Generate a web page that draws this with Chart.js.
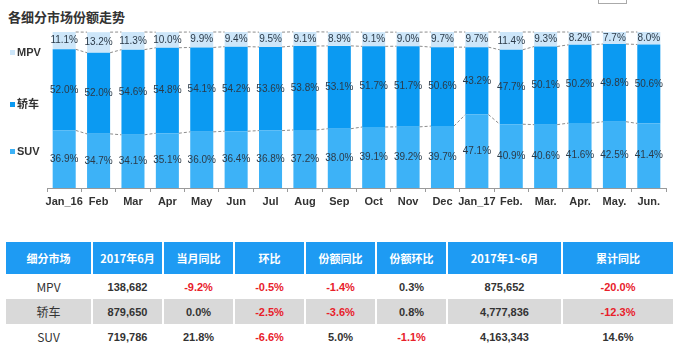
<!DOCTYPE html>
<html>
<head>
<meta charset="utf-8">
<script src="https://cdn.jsdelivr.net/npm/chart.js@4.4.1/dist/chart.umd.min.js"></script>
<style>
  body { margin: 0; background: #fff; font-family: "Liberation Sans", "Noto Sans CJK SC", sans-serif; }
  #wrap { position: relative; width: 677px; height: 362px; overflow: hidden; }
  #title { position: absolute; left: 8px; top: 7px; font-size: 13px; font-weight: bold; color: #333; font-family: "Noto Sans CJK SC", sans-serif; }
  #box { position: absolute; left: 598px; top: -1px; width: 27px; height: 4px; border: 1px solid #aaa; border-top: none; }
  .lg { position: absolute; left: 10px; font-size: 11px; font-weight: bold; color: #333; font-family: "Liberation Sans", "Noto Sans CJK SC", sans-serif; }
  .lg i { display: inline-block; width: 5px; height: 5px; margin-right: 2px; vertical-align: 1px; }
  canvas { position: absolute; left: 0; top: 0; }
  table { position: absolute; left: 6px; top: 242px; border-collapse: collapse; table-layout: fixed; }
  th { background: #1e9bf3; color: #fff; font-size: 11px; font-weight: bold; height: 32px; padding: 0; border-left: 2px solid #fff; font-family: "Noto Sans CJK SC", "Liberation Sans", sans-serif; }
  th:first-child, td:first-child { border-left: none; }
  td { height: 25px; padding: 0; text-align: center; font-size: 11px; color: #333; font-weight: bold; border-left: 2px solid #fff; }
  td:first-child { font-weight: normal; font-size: 12px; font-family: "Noto Sans CJK SC", "Liberation Sans", sans-serif; }
  tr.g td { background: #d9d9d9; }
  .r { color: #e8202a; }
</style>
</head>
<body>
<div id="wrap">
  <div id="title">各细分市场份额走势</div>
  <div id="box"></div>
  <canvas id="myChart" width="677" height="225"></canvas>
  <div class="lg" style="top:46px"><i style="background:#cde6f9"></i>MPV</div>
  <div class="lg" style="top:95px; font-family:'Noto Sans CJK SC',sans-serif"><i style="background:#0b9af2"></i>轿车</div>
  <div class="lg" style="top:145px"><i style="background:#3db2f7"></i>SUV</div>
  <table id="tbl"></table>
</div>
<script>
// months
var labels = ["Jan_16", "Feb", "Mar", "Apr", "May", "Jun", "Jul", "Aug", "Sep", "Oct", "Nov", "Dec", "Jan_17", "Feb.", "Mar.", "Apr.", "May.", "Jun."];

// share values, %
var suv = [36.9, 34.7, 34.1, 35.1, 36.0, 36.4, 36.8, 37.2, 38.0, 39.1, 39.2, 39.7, 47.1, 40.9, 40.6, 41.6, 42.5, 41.4];
var sedan = [52.0, 52.0, 54.6, 54.8, 54.1, 54.2, 53.6, 53.8, 53.1, 51.7, 51.7, 50.6, 43.2, 47.7, 50.1, 50.2, 49.8, 50.6];
var mpv = [11.1, 13.2, 11.3, 10.0, 9.9, 9.4, 9.5, 9.1, 8.9, 9.1, 9.0, 9.7, 9.7, 11.4, 9.3, 8.2, 7.7, 8.0];

// table
var tableHead = ["细分市场", "2017年6月", "当月同比", "环比", "份额同比", "份额环比", "2017年1~6月", "累计同比"];
var tableRows = [
  ["MPV", "138,682", "-9.2%", "-0.5%", "-1.4%", "0.3%", "875,652", "-20.0%"],
  ["轿车", "879,650", "0.0%", "-2.5%", "-3.6%", "0.8%", "4,777,836", "-12.3%"],
  ["SUV", "719,786", "21.8%", "-6.6%", "5.0%", "-1.1%", "4,163,343", "14.6%"]
];
var colWidths = [86, 71, 71, 71, 71, 71, 115, 111];

var tbl = document.getElementById("tbl");
var html = "<colgroup>";
colWidths.forEach(function (w) { html += '<col style="width:' + w + 'px">'; });
html += "</colgroup><tr>";
tableHead.forEach(function (h) { html += "<th>" + h + "</th>"; });
html += "</tr>";
tableRows.forEach(function (row, i) {
  html += '<tr' + (i == 1 ? ' class="g"' : '') + '>';
  row.forEach(function (c, j) {
    var red = j > 0 && c.charAt(0) == "-";
    html += '<td' + (red ? ' class="r"' : '') + '>' + c + '</td>';
  });
  html += "</tr>";
});
tbl.innerHTML = html;

// series lines + value labels
var barExtras = {
  id: "barExtras",
  afterDatasetsDraw: function (chart) {
    var ctx = chart.ctx;
    ctx.save();
    ctx.strokeStyle = "#8c8c8c";
    ctx.lineWidth = 1;
    ctx.setLineDash([3, 2]);
    chart.data.datasets.forEach(function (ds, di) {
      var bars = chart.getDatasetMeta(di).data;
      for (var i = 0; i < bars.length - 1; i++) {
        var a = bars[i], b = bars[i + 1];
        ctx.beginPath();
        ctx.moveTo(a.x + a.width / 2, a.y);
        ctx.lineTo(b.x - b.width / 2, b.y);
        ctx.stroke();
      }
    });
    ctx.setLineDash([]);
    ctx.fillStyle = "#2b3a48";
    ctx.font = "10px 'Liberation Sans'";
    ctx.textAlign = "center";
    ctx.textBaseline = "middle";
    chart.data.datasets.forEach(function (ds, di) {
      chart.getDatasetMeta(di).data.forEach(function (bar, i) {
        ctx.fillText(ds.data[i].toFixed(1) + "%", bar.x, (bar.y + bar.base) / 2);
      });
    });
    ctx.restore();
  }
};

var myChart = new Chart(document.getElementById("myChart"), {
  type: "bar",
  data: {
    labels: labels,
    datasets: [
      { label: "SUV", data: suv, backgroundColor: "#3db2f7" },
      { label: "轿车", data: sedan, backgroundColor: "#0b9af2" },
      { label: "MPV", data: mpv, backgroundColor: "#cde6f9" }
    ]
  },
  options: {
    responsive: false,
    animation: false,
    devicePixelRatio: 1,
    layout: { padding: { left: 47, right: 11, top: 32, bottom: 7 } },
    datasets: { bar: { categoryPercentage: 1, barPercentage: 0.67 } },
    plugins: { legend: { display: false }, tooltip: { enabled: false } },
    scales: {
      x: {
        stacked: true,
        afterFit: function (s) { s.height = 30; },
        grid: { display: true, drawOnChartArea: false, offset: true, tickLength: 4, color: "#9a9a9a" },
        border: { display: true, color: "#9a9a9a" },
        ticks: { padding: 3, color: "#333", font: { size: 11, weight: "bold", family: "'Liberation Sans'" }, maxRotation: 0, autoSkip: false }
      },
      y: { stacked: true, display: false, min: 0, max: 100 }
    }
  },
  plugins: [barExtras]
});
</script>
</body>
</html>
